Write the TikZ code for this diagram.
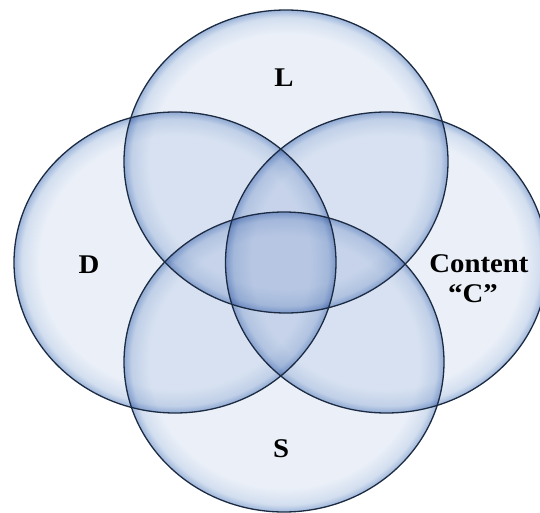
\documentclass[tikz,border=0pt]{standalone}
\usepackage{fontspec}
\setmainfont{Liberation Serif}
\definecolor{vin}{HTML}{EBF0F8}
\definecolor{vmid}{HTML}{D2DEEF}
\definecolor{vout}{HTML}{9DB5DA}
\definecolor{vedge}{HTML}{1C2B42}
\pgfdeclareradialshading{vennglow}{\pgfpoint{0bp}{0bp}}{color(0bp)=(vin); color(21bp)=(vin); color(23.8bp)=(vmid); color(25bp)=(vout); color(50bp)=(vout)}
\tikzset{
  setglow/.style={shading=vennglow, blend mode=multiply},
  setline/.style={draw=vedge, line width=1.3pt},
  setlabel/.style={font=\bfseries\fontsize{27}{27}\selectfont, anchor=base, xscale=1.066, inner sep=0pt},
}
\begin{document}
\begin{tikzpicture}[x=1pt,y=-1pt]
\useasboundingbox (0,0) rectangle (540,513);
\fill[white] (0,0) rectangle (540,513);
\coordinate (cL) at (286,161.5);
\coordinate (cD) at (175,262.5);
\coordinate (cC) at (386.5,262.5);
\coordinate (cS) at (284,362);
\shade[setglow] (cL) ellipse [x radius=162, y radius=151.5];
\shade[setglow] (cD) ellipse [x radius=161, y radius=150.5];
\shade[setglow] (cC) ellipse [x radius=161, y radius=150.5];
\shade[setglow] (cS) ellipse [x radius=160, y radius=150];
\draw[setline] (cL) ellipse [x radius=162, y radius=151.5];
\draw[setline] (cD) ellipse [x radius=161, y radius=150.5];
\draw[setline] (cC) ellipse [x radius=161, y radius=150.5];
\draw[setline] (cS) ellipse [x radius=160, y radius=150];
\node[setlabel] (tL) at (284,87) {L};
\node[setlabel] (tD) at (89,273) {D};
\node[setlabel] (tS) at (281,457) {S};
\node[setlabel] (tC1) at (479,272) {Content};
\node[setlabel] (tC2) at (473,302) {“C”};
\end{tikzpicture}
\end{document}
